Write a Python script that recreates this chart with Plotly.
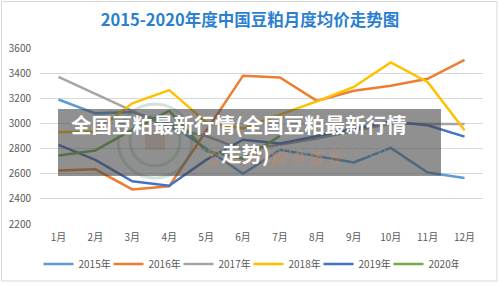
import plotly.graph_objects as go

months = ["1月", "2月", "3月", "4月", "5月", "6月", "7月", "8月", "9月", "10月", "11月", "12月"]
y2015 = [3190, 3080, 3090, 3000, 2800, 2600, 2790, 2740, 2690, 2805, 2610, 2565]
y2016 = [2625, 2635, 2475, 2500, 2940, 3380, 3365, 3180, 3260, 3300, 3355, 3505]
y2017 = [3370, 3235, 3100, 2965, 2900, 2790, 2830, 2880, 2940, 3000, 2995, 2995]
y2018 = [2930, 2935, 3160, 3265, 3010, 2960, 3070, 3175, 3290, 3485, 3330, 2945]
y2019 = [2830, 2710, 2540, 2505, 2710, 2870, 2840, 2900, 2960, 3015, 2985, 2895]
y2020 = [2745, 2785, 2950, 3100, 2780, 2720, 2900]

series = [
    ("2015年", y2015, "#5B9BD5"),
    ("2016年", y2016, "#ED7D31"),
    ("2017年", y2017, "#A5A5A5"),
    ("2018年", y2018, "#FFC000"),
    ("2019年", y2019, "#4472C4"),
    ("2020年", y2020, "#70AD47"),
]

FONT = "Noto Sans CJK SC"
fig = go.Figure()
for name, vals, col in series:
    fig.add_trace(go.Scatter(
        x=months[:len(vals)], y=vals, name=name, mode="lines",
        line=dict(color=col, width=2.5),
    ))

L, R, T, B = 40, 17, 48, 61
W, H = 500, 285
pw, ph = W - L - R, H - T - B

def px(x):
    return (x - L) / pw

def py(y):
    return (H - B - y) / ph

shapes = [
    # outer border
    dict(type="rect", xref="paper", yref="paper", x0=px(1.5), x1=px(497), y0=py(281), y1=py(1.5),
         line=dict(color="#D9D9D9", width=1), layer="below"),
    # watermark logo circles
    dict(type="circle", xref="paper", yref="paper", x0=px(118), x1=px(192), y0=py(178), y1=py(104),
         line=dict(color="rgba(120,180,140,0.35)", width=3), layer="above"),
    dict(type="circle", xref="paper", yref="paper", x0=px(130), x1=px(180), y0=py(166), y1=py(116),
         line=dict(color="rgba(120,180,140,0.35)", width=3), layer="above"),
    dict(type="rect", xref="paper", yref="paper", x0=px(145), x1=px(165), y0=py(150), y1=py(132),
         line=dict(width=0), fillcolor="rgba(220,160,110,0.35)", layer="above"),
    # banner
    dict(type="rect", xref="paper", yref="paper", x0=px(58), x1=px(441), y0=py(176), y1=py(109),
         line=dict(width=0), fillcolor="rgba(70,70,70,0.6)", layer="above"),
]

annotations = [
    dict(text="www.feedtrade.com.cn", x=px(295), y=py(151), xref="paper", yref="paper",
         showarrow=False, font=dict(family="DejaVu Sans", size=16, color="rgba(150,150,150,0.55)")),
    dict(text="<i>立 足 饲 料</i>", x=px(240), y=py(170), xref="paper", yref="paper",
         showarrow=False, font=dict(family=FONT, size=15, color="rgba(225,140,80,0.4)")),
    dict(text="<i>服 务 畜 牧</i>", x=px(345), y=py(170), xref="paper", yref="paper",
         showarrow=False, font=dict(family=FONT, size=15, color="rgba(225,140,80,0.4)")),
    dict(text="<b>全国豆粕最新行情(全国豆粕最新行情</b>", x=px(238.5), y=py(124), xref="paper", yref="paper",
         showarrow=False, font=dict(family=FONT, size=20.5, color="white")),
    dict(text="<b>走势)</b>", x=px(245), y=py(153), xref="paper", yref="paper",
         showarrow=False, font=dict(family=FONT, size=20.5, color="white")),
]

fig.update_layout(
    width=W, height=H,
    margin=dict(l=L, r=R, t=T, b=B, autoexpand=False),
    paper_bgcolor="white", plot_bgcolor="white",
    title=dict(text="<b>2015-2020年度中国豆粕月度均价走势图</b>", x=0.5, xanchor="center",
               y=1 - 20 / H, yanchor="middle",
               font=dict(family=FONT, size=16.5, color="#2B7FCF")),
    font=dict(family=FONT, size=10, color="#595959"),
    xaxis=dict(type="category", categoryorder="array", categoryarray=months, range=[-0.5, 11.5],
               showgrid=False, showline=False, zeroline=False, ticks="", ticklabelstandoff=6,
               tickfont=dict(family=FONT, size=10, color="#595959")),
    yaxis=dict(range=[2200, 3600], dtick=200, showgrid=True, gridcolor="#D9D9D9", gridwidth=1,
               zeroline=False, showline=False, ticks="", ticklabelstandoff=8,
               tickfont=dict(family=FONT, size=10, color="#595959")),
    legend=dict(orientation="h", x=px(248.5), xanchor="center", y=py(264), yanchor="middle",
                font=dict(family=FONT, size=10, color="#595959"), entrywidth=25, itemwidth=30,
                bgcolor="rgba(0,0,0,0)"),
    shapes=shapes, annotations=annotations,
    showlegend=True,
)

fig.write_html("out.html")
